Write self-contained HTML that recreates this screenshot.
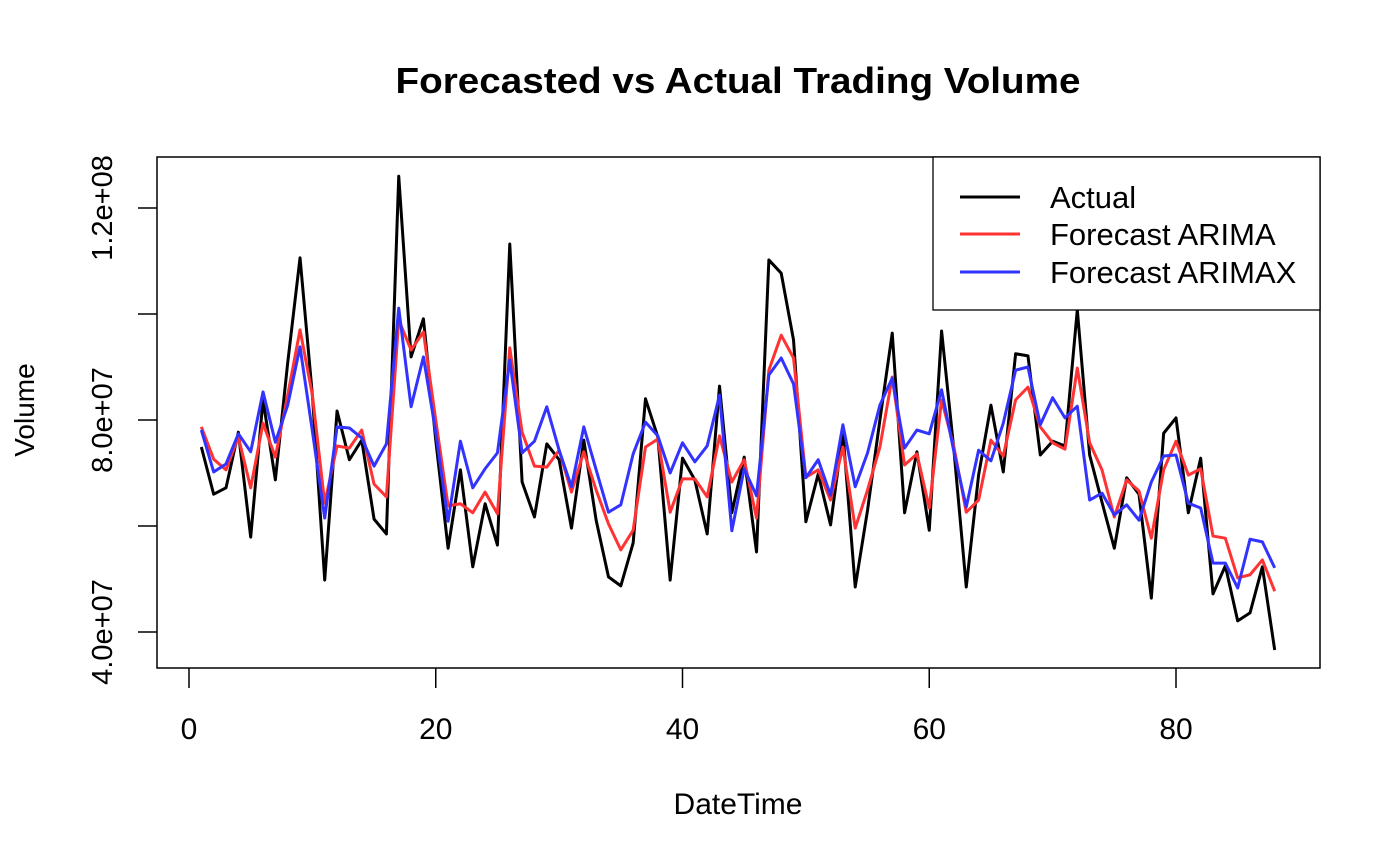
<!DOCTYPE html>
<html><head><meta charset="utf-8"><style>
body{margin:0;background:#fff}
svg{display:block;font-family:"Liberation Sans",Arial,sans-serif}
</style></head><body>
<svg id="chart" width="1400" height="865" xmlns="http://www.w3.org/2000/svg">
<text x="738" y="93" text-anchor="middle" font-size="36" font-weight="bold" textLength="685" lengthAdjust="spacingAndGlyphs">Forecasted vs Actual Trading Volume</text>
<text x="738" y="814" text-anchor="middle" font-size="30">DateTime</text>
<text transform="translate(34,410) rotate(-90)" text-anchor="middle" font-size="28">Volume</text>
<rect x="157" y="157" width="1163" height="511" fill="none" stroke="#000" stroke-width="1.5"/>
<g id="axes"></g>
<g id="series"></g>
<g>
<rect x="933" y="157" width="387" height="153" fill="#fff" stroke="#000" stroke-width="1.3"/>
<line x1="960" y1="197" x2="1020" y2="197" stroke="#000" stroke-width="3"/>
<text x="1050" y="208" font-size="31">Actual</text>
<line x1="960" y1="234" x2="1020" y2="234" stroke="#ff3333" stroke-width="3"/>
<text x="1050" y="245" font-size="31">Forecast ARIMA</text>
<line x1="960" y1="272" x2="1020" y2="272" stroke="#3333ff" stroke-width="3"/>
<text x="1050" y="283" font-size="31">Forecast ARIMAX</text>
</g>
</svg>
<script>
const actual=[74.9,66.0,67.2,77.7,57.9,83.8,68.7,90.8,110.6,84.7,49.8,81.7,72.5,76.2,61.3,58.5,126.0,91.9,99.1,76.2,55.8,70.6,52.3,64.2,56.4,113.2,68.3,61.7,75.5,72.5,59.6,76.2,61.1,50.4,48.7,56.8,84.0,76.8,49.8,72.8,68.7,58.5,86.4,62.5,73.0,55.1,110.2,107.7,95.1,60.8,69.8,60.2,77.7,48.5,63.0,80.0,96.4,62.5,74.0,59.2,96.8,74.3,48.5,69.6,82.8,70.2,92.5,92.1,73.4,76.0,75.1,100.8,73.4,64.5,55.8,69.1,66.0,46.4,77.5,80.4,62.5,72.8,47.2,52.5,42.1,43.6,52.3,36.6];
const arima=[78.7,72.6,70.6,76.8,67.2,79.4,73.0,84.7,97.0,84.7,64.3,75.1,74.7,78.1,67.9,65.5,98.9,93.2,96.6,80.0,63.8,64.2,62.5,66.4,62.3,93.6,77.7,71.3,71.1,74.3,66.4,74.0,66.8,60.4,55.5,59.2,74.9,76.4,62.6,68.9,68.9,65.5,77.0,68.3,72.5,61.5,89.4,96.0,91.7,69.2,70.6,64.9,74.9,59.6,66.8,74.9,88.1,71.5,73.6,63.4,83.8,74.9,62.6,64.9,76.2,73.2,83.8,86.2,78.7,75.7,74.5,89.8,75.7,70.6,61.7,68.7,66.6,57.7,70.6,76.0,69.6,70.8,58.1,57.7,50.2,50.8,53.6,47.7];
const arimax=[78.1,70.2,71.7,77.4,74.0,85.3,75.8,82.8,93.8,77.9,61.5,78.7,78.5,76.6,71.3,75.5,101.1,82.5,91.9,77.7,60.9,76.0,67.2,70.8,73.8,91.3,73.8,76.0,82.5,74.3,67.4,78.7,70.6,62.6,64.0,73.6,79.6,77.0,70.0,75.7,72.1,75.1,84.7,59.1,70.8,65.7,88.5,91.7,86.8,69.1,72.5,65.8,79.1,67.4,73.8,82.8,87.9,74.7,78.1,77.4,85.7,74.0,63.6,74.3,72.3,79.4,89.4,90.0,79.1,84.2,80.4,82.6,64.9,66.2,62.1,64.0,61.1,68.3,73.2,73.4,64.3,63.4,53.0,53.0,48.3,57.5,57.0,52.1];
const xTicks=[0,20,40,60,80];
const yTicks=[40,60,80,100,120];
const yTickLabels=["4.0e+07","","8.0e+07","","1.2e+08"];

const NS="http://www.w3.org/2000/svg";
const xs=v=>189+v*(1176-189)/80;
const ys=v=>632-(v-40)*(632-208)/80;
function mk(tag,attrs,parent){const e=document.createElementNS(NS,tag);for(const k in attrs)e.setAttribute(k,attrs[k]);parent.appendChild(e);return e;}
const axes=document.getElementById('axes');
xTicks.forEach(t=>{
  const l=mk('line',{x1:xs(t),x2:xs(t),y1:668,y2:688,stroke:'#000','stroke-width':1.5},axes);
  
  
  const tx=mk('text',{x:xs(t),y:739,'text-anchor':'middle','font-size':30},axes);
  tx.textContent=t;
  
  
});
yTicks.forEach((t,i)=>{
  const l=mk('line',{x1:138,x2:157,y1:ys(t),y2:ys(t),stroke:'#000','stroke-width':1.5},axes);
  
  
  if(yTickLabels[i]){
    const tx=mk('text',{transform:`translate(112,${ys(t)}) rotate(-90)`,'text-anchor':'middle','font-size':29},axes);
    tx.textContent=yTickLabels[i];
    
    
  }
});
const sg=document.getElementById('series');
function line(data,color,name){
  const p=mk('polyline',{points:data.map((v,i)=>xs(i+1)+','+ys(v)).join(' '),fill:'none',stroke:color,'stroke-width':3,'stroke-linejoin':'round'},sg);
  
  
}
line(actual,'#000','actual-line');
line(arima,'#ff3333','arima-line');
line(arimax,'#3333ff','arimax-line');
</script>
</body></html>
